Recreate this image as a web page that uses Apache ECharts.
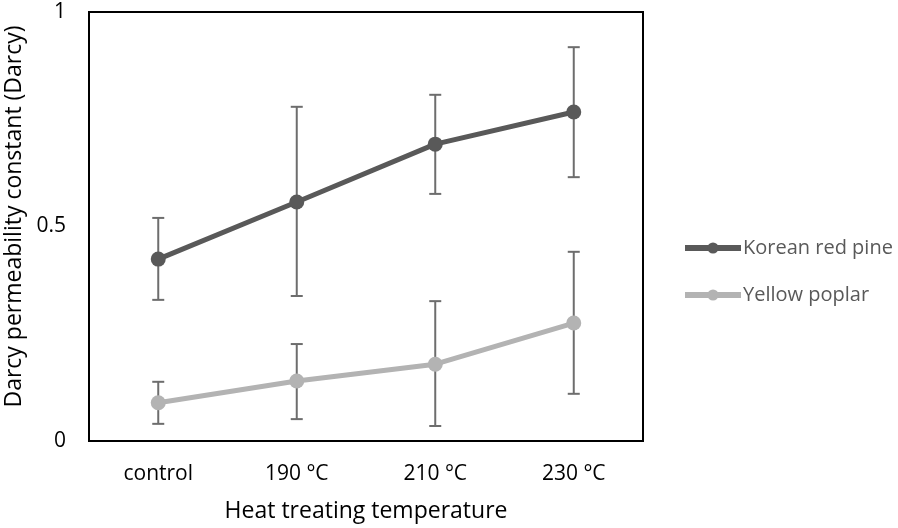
<!DOCTYPE html>
<html><head><meta charset="utf-8">
<script src="https://cdn.jsdelivr.net/npm/echarts@6/dist/echarts.min.js"></script>
<style>html,body{margin:0;padding:0;background:#fff}#c{width:898px;height:528px}</style>
</head><body><div id="c"></div>
<script>
var categories = ['control', '190 °C', '210 °C', '230 °C'];
var pineMean = [0.424, 0.557, 0.692, 0.767];
var pineLow  = [0.329, 0.338, 0.576, 0.615];
var pineHigh = [0.520, 0.779, 0.807, 0.918];
var poplarMean = [0.089, 0.140, 0.179, 0.275];
var poplarLow  = [0.040, 0.051, 0.035, 0.110];
var poplarHigh = [0.138, 0.226, 0.326, 0.441];
var yTicks = [0, 0.5, 1];

var FONT = '"Open Sans", Lato, sans-serif';
function errData(low, high) {
  return categories.map(function (c, i) { return [i, low[i], high[i]]; });
}
function errRender(params, api) {
  var x = api.value(0);
  var lo = api.coord([x, api.value(1)]);
  var hi = api.coord([x, api.value(2)]);
  var w = 6;
  var st = { stroke: '#6d6d6d', lineWidth: 2 };
  return { type: 'group', children: [
    { type: 'line', shape: { x1: lo[0], y1: lo[1], x2: hi[0], y2: hi[1] }, style: st },
    { type: 'line', shape: { x1: lo[0] - w, y1: lo[1], x2: lo[0] + w, y2: lo[1] }, style: st },
    { type: 'line', shape: { x1: hi[0] - w, y1: hi[1], x2: hi[0] + w, y2: hi[1] }, style: st }
  ]};
}
var chart = echarts.init(document.getElementById('c'));
chart.setOption({
  animation: false,
  textStyle: { fontFamily: FONT },
  grid: { left: 89, right: 255, top: 12, bottom: 87, containLabel: false, outerBoundsMode: 'none',
    show: true, borderColor: '#000', borderWidth: 2, backgroundColor: 'transparent' },
  legend: {
    orient: 'vertical', left: 682, top: 236, padding: 0, itemGap: 23, itemWidth: 56, itemHeight: 14,
    textStyle: { fontFamily: FONT, fontSize: 20, lineHeight: 24, color: '#595959', padding: [0, 0, 0, -3] },
    data: [
      { name: 'Korean red pine', lineStyle: { width: 6 } },
      { name: 'Yellow poplar', lineStyle: { width: 6 } }
    ]
  },
  xAxis: {
    type: 'category', data: categories, boundaryGap: true,
    axisLine: { lineStyle: { color: '#000', width: 2 } },
    axisTick: { show: false },
    axisLabel: { fontSize: 21, color: '#000', margin: 23, fontFamily: FONT },
    name: 'Heat treating temperature', nameLocation: 'middle', nameGap: 59,
    nameTextStyle: { fontSize: 23, color: '#000', fontFamily: FONT }
  },
  yAxis: {
    type: 'value', min: 0, max: 1, interval: 0.5,
    axisLine: { show: true, lineStyle: { color: '#000', width: 2 } },
    axisTick: { show: false },
    splitLine: { show: false },
    axisLabel: { fontSize: 21, color: '#000', margin: 23, fontFamily: FONT,
      formatter: function (v) { return yTicks.indexOf(v) >= 0 ? String(v) : ''; } },
    name: 'Darcy permeability constant (Darcy)', nameLocation: 'middle', nameGap: 62,
    nameTextStyle: { fontSize: 23, color: '#000', fontFamily: FONT, padding: [0, 0, 0, 20] }
  },
  series: [
    { type: 'custom', name: 'pineErr', data: errData(pineLow, pineHigh), renderItem: errRender, z: 1, silent: true },
    { type: 'custom', name: 'poplarErr', data: errData(poplarLow, poplarHigh), renderItem: errRender, z: 1, silent: true },
    { type: 'line', name: 'Korean red pine', data: pineMean, z: 3,
      symbol: 'circle', symbolSize: 15, itemStyle: { color: '#595959' },
      lineStyle: { color: '#595959', width: 5 } },
    { type: 'line', name: 'Yellow poplar', data: poplarMean, z: 3,
      symbol: 'circle', symbolSize: 15, itemStyle: { color: '#b3b3b3' },
      lineStyle: { color: '#b3b3b3', width: 5 } }
  ]
});
</script></body></html>
